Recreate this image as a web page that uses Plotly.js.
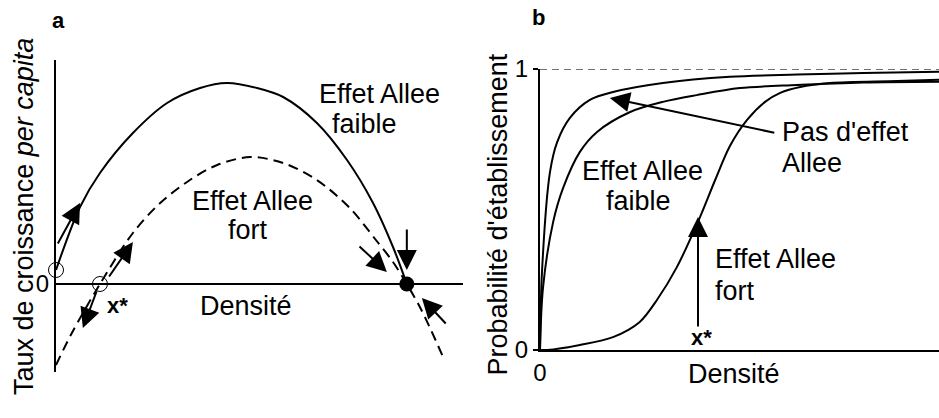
<!DOCTYPE html>
<html>
<head>
<meta charset="utf-8">
<script src="https://cdn.plot.ly/plotly-3.0.1.min.js"></script>
<style>html,body{margin:0;padding:0;background:#fff;}#chart{width:939px;height:418px;}</style>
</head>
<body>
<div id="chart"></div>
<script>
// Panel a: per-capita growth rate vs density
const densA_faible = [0, 0.059, 0.108, 0.189, 0.273, 0.354, 0.420, 0.494, 0.558, 0.641, 0.715, 0.779, 0.828, 0.862];
const tauxA_faible = [0.07, 0.385, 0.555, 0.755, 0.905, 0.98, 1.005, 0.98, 0.935, 0.805, 0.62, 0.405, 0.185, 0];
const densA_fort = [0, 0.039, 0.108, 0.189, 0.256, 0.329, 0.396, 0.477, 0.558, 0.641, 0.722, 0.784, 0.828, 0.862, 0.894, 0.919, 0.951];
const tauxA_fort = [-0.405, -0.245, 0, 0.255, 0.405, 0.52, 0.595, 0.635, 0.605, 0.52, 0.38, 0.225, 0.11, 0, -0.115, -0.22, -0.365];
const equilOuvertsX = [0, 0.108];
const equilOuvertsY = [0.07, 0];
const equilStableX = [0.862];
const equilStableY = [0];

// Panel b: establishment probability vs density
const densB_sans = [0, 0.005, 0.025, 0.043, 0.075, 0.125, 0.183, 0.308, 0.476, 0.644, 0.810, 1.0];
const probB_sans = [0, 0.278, 0.633, 0.740, 0.826, 0.890, 0.918, 0.950, 0.972, 0.980, 0.986, 0.99];
const densB_faible = [0, 0.0075, 0.033, 0.058, 0.100, 0.143, 0.226, 0.308, 0.393, 0.501, 0.644, 0.810, 1.0];
const probB_faible = [0, 0.221, 0.456, 0.577, 0.705, 0.776, 0.847, 0.883, 0.907, 0.932, 0.943, 0.952, 0.955];
const densB_fort = [0, 0.018, 0.100, 0.183, 0.25, 0.293, 0.343, 0.401, 0.439, 0.476, 0.519, 0.564, 0.602, 0.652, 0.727, 0.895, 1.0];
const probB_fort = [0, 0, 0.018, 0.046, 0.10, 0.178, 0.295, 0.473, 0.605, 0.726, 0.819, 0.883, 0.915, 0.936, 0.950, 0.957, 0.962];

const FONT = 'Liberation Sans, Arial, sans-serif';
const BIG = 27;

const lineS = {color: '#000', width: 2, shape: 'spline', smoothing: 0.9};

const traces = [
  {x: densA_faible, y: tauxA_faible, xaxis: 'x', yaxis: 'y', mode: 'lines', line: lineS, hoverinfo: 'skip'},
  {x: densA_fort, y: tauxA_fort, xaxis: 'x', yaxis: 'y', mode: 'lines',
   line: {color: '#000', width: 2, shape: 'spline', smoothing: 0.9, dash: '10px,6px'}, hoverinfo: 'skip'},
  {x: equilOuvertsX, y: equilOuvertsY, xaxis: 'x', yaxis: 'y', mode: 'markers', cliponaxis: false,
   marker: {symbol: 'circle', size: 15, color: 'rgba(255,255,255,0)', line: {color: '#000', width: 1}}, hoverinfo: 'skip'},
  {x: equilStableX, y: equilStableY, xaxis: 'x', yaxis: 'y', mode: 'markers', cliponaxis: false,
   marker: {symbol: 'circle', size: 15, color: '#000'}, hoverinfo: 'skip'},
  {x: densB_sans, y: probB_sans, xaxis: 'x2', yaxis: 'y2', mode: 'lines', line: lineS, hoverinfo: 'skip'},
  {x: densB_faible, y: probB_faible, xaxis: 'x2', yaxis: 'y2', mode: 'lines', line: lineS, hoverinfo: 'skip'},
  {x: densB_fort, y: probB_fort, xaxis: 'x2', yaxis: 'y2', mode: 'lines', line: lineS, hoverinfo: 'skip'}
];

function arrow(xr, yr, x, y, ax, ay) {
  return {xref: xr, yref: yr, axref: xr, ayref: yr, x: x, y: y, ax: ax, ay: ay, text: '',
          showarrow: true, arrowhead: 2, arrowsize: 2, arrowwidth: 2, arrowcolor: '#000'};
}
function label(xr, yr, x, y, text, opts) {
  return Object.assign({xref: xr, yref: yr, x: x, y: y, text: text, showarrow: false,
          font: {family: FONT, size: BIG, color: '#000'}, xanchor: 'center', yanchor: 'middle', align: 'center'}, opts || {});
}
const L = {xanchor: 'left', align: 'left'};

const annotations = [
  // Panel a arrows
  arrow('x', 'y', 0.059, 0.405, 0.0025, 0.195),
  arrow('x', 'y', 0.189, 0.21, 0.128, 0.03),
  arrow('x', 'y', 0.066, -0.22, 0.101, -0.03),
  arrow('x', 'y', 0.813, 0.06, 0.742, 0.195),
  arrow('x', 'y', 0.862, 0.07, 0.862, 0.28),
  arrow('x', 'y', 0.899, -0.07, 0.961, -0.205),
  // Panel a labels
  label('x', 'y', 0.796, 0.95, 'Effet Allee'),
  label('x', 'y', 0.759, 0.80, 'faible'),
  label('x', 'y', 0.482, 0.4125, 'Effet Allee'),
  label('x', 'y', 0.472, 0.27, 'fort'),
  label('x', 'y', 0.467, -0.11, 'Densité'),
  label('x', 'y', 0.15, -0.11, '<b>x*</b>', {font: {family: FONT, size: 22, color: '#000'}}),
  // Panel b arrows
  arrow('x2', 'y2', 0.175, 0.897, 0.591, 0.772),
  arrow('x2', 'y2', 0.396, 0.473, 0.396, 0.078),
  // Panel b labels
  label('x2', 'y2', 0.258, 0.637, 'Effet Allee'),
  label('x2', 'y2', 0.246, 0.532, 'faible'),
  label('x2', 'y2', 0.602, 0.776, "Pas d'effet", L),
  label('x2', 'y2', 0.602, 0.665, 'Allee', L),
  label('x2', 'y2', 0.434, 0.324, 'Effet Allee', L),
  label('x2', 'y2', 0.434, 0.210, 'fort', L),
  label('x2', 'y2', 0.404, 0.043, '<b>x*</b>', {font: {family: FONT, size: 22, color: '#000'}}),
  label('paper', 'paper', 0.7817, 0.105, 'Densité'),
  // Axis titles
  label('paper', 'paper', 0.0256, 0.481, 'Taux de croissance <i>per capita</i>', {textangle: -90}),
  label('paper', 'paper', 0.530, 0.486, "Probabilité d'établissement", {textangle: -90}),
  // Panel letters
  label('paper', 'paper', 0.0618, 0.952, '<b>a</b>', {font: {family: FONT, size: 22, color: '#000'}}),
  label('paper', 'paper', 0.574, 0.957, '<b>b</b>', {font: {family: FONT, size: 22, color: '#000'}})
];

const layout = {
  width: 939, height: 418,
  margin: {l: 0, r: 0, t: 0, b: 0},
  paper_bgcolor: '#fff', plot_bgcolor: 'rgba(0,0,0,0)',
  showlegend: false,
  font: {family: FONT, color: '#000'},
  xaxis: {domain: [0.05964, 0.49308], range: [0, 1], showgrid: false, zeroline: false, showline: false,
          showticklabels: false, ticks: '', fixedrange: true},
  yaxis: {domain: [0.11005, 0.85646], range: [-0.44, 1.12], showgrid: false,
          zeroline: true, zerolinecolor: '#000', zerolinewidth: 2,
          showline: true, linecolor: '#000', linewidth: 2,
          tickvals: [0], ticktext: ['0'], ticks: '', tickfont: {family: FONT, size: 24, color: '#000'}, fixedrange: true},
  xaxis2: {domain: [0.57508, 1], range: [0, 1], anchor: 'y2', showgrid: false, zeroline: false,
           showline: true, linecolor: '#000', linewidth: 2,
           tickvals: [0], ticktext: ['0'], ticks: '', tickfont: {family: FONT, size: 24, color: '#000'}, fixedrange: true},
  yaxis2: {domain: [0.16268, 0.83493], range: [0, 1], anchor: 'x2', showgrid: false, zeroline: false,
           showline: true, linecolor: '#000', linewidth: 2,
           tickvals: [0, 1], ticktext: ['0', '1'], ticks: 'outside', ticklen: 5, tickwidth: 1.5, tickcolor: '#000',
           tickfont: {family: FONT, size: 24, color: '#000'}, fixedrange: true},
  shapes: [
    {type: 'line', xref: 'x2', yref: 'y2', x0: 0, x1: 1, y0: 1, y1: 1,
     line: {color: '#444', width: 1.5, dash: '7px,5px'}, layer: 'below'}
  ],
  annotations: annotations
};

Plotly.newPlot('chart', traces, layout, {displayModeBar: false, staticPlot: true});
</script>
</body>
</html>
